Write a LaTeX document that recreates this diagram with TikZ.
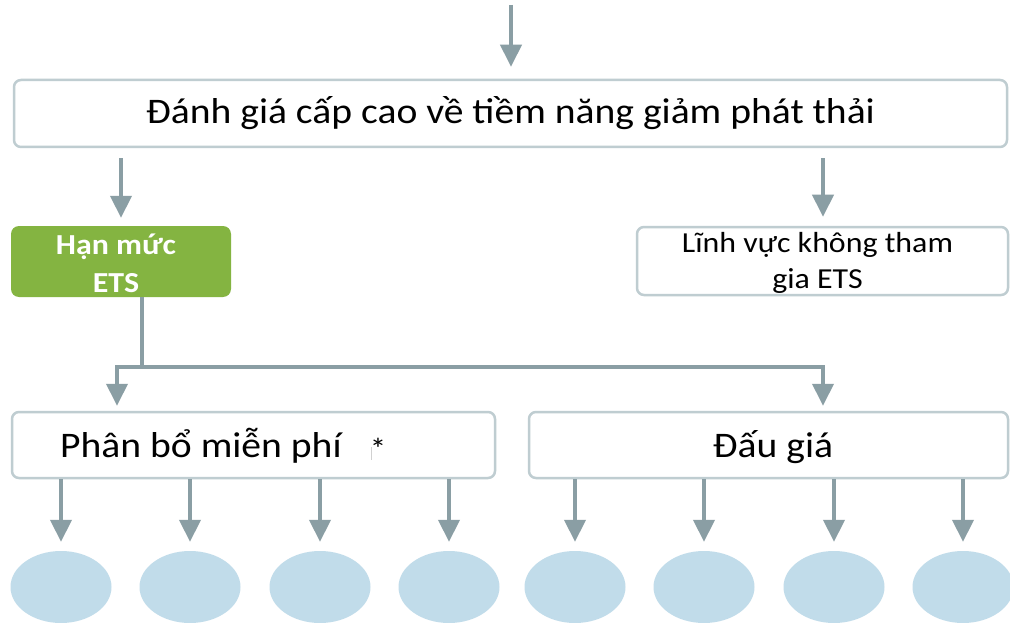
\documentclass[tikz,border=0pt]{standalone}
\usepackage{fontspec}
\setmainfont{Carlito}[FakeStretch=1.1]
\usetikzlibrary{arrows.meta,shapes.geometric}
\definecolor{arrc}{HTML}{8A9EA4}
\definecolor{boxc}{HTML}{BFCDD1}
\definecolor{grn}{HTML}{84B441}
\definecolor{ellc}{HTML}{C1DCEA}
\tikzset{
  arr/.style={draw=arrc, line width=4pt, -{Triangle[width=21pt,length=22pt]}},
  plainline/.style={draw=arrc, line width=4pt},
  box/.style={draw=boxc, line width=2.5pt, rounded corners=7pt, fill=white, inner sep=0pt, align=center},
  greenbox/.style={fill=grn, rounded corners=8pt, inner sep=0pt},
  label/.style={inner sep=0pt, align=center},
  oval/.style={ellipse, fill=ellc, minimum width=101pt, minimum height=72pt, inner sep=0pt},
}
\begin{document}
\begin{tikzpicture}[x=1pt,y=-1pt]
\useasboundingbox[fill=white] (0,0) rectangle (1010,623);

% boxes
\node[box, minimum width=993pt, minimum height=67pt, font=\fontsize{36}{43}\selectfont] (top) at (510.5,113.5) {Đánh giá cấp cao về tiềm năng giảm phát thải};

\node[greenbox, minimum width=220pt, minimum height=71pt] (ets) at (121,261.5) {};
\node[label, text=white, font=\bfseries\fontsize{29}{38}\selectfont] (etstxt) at ([xshift=-5pt,yshift=-2pt]ets.center) {Hạn mức\\ETS};

\node[box, minimum width=371pt, minimum height=68pt] (non) at (822.5,261) {};
\node[label, font=\fontsize{29}{36}\selectfont] (nontxt) at ([xshift=-5pt,yshift=-2pt]non.center) {Lĩnh vực không tham\\gia ETS};

\node[box, minimum width=483pt, minimum height=66pt] (free) at (253.5,445) {};
\node[anchor=base west, inner sep=0pt, font=\fontsize{36}{43}\selectfont] (freetxt) at (60,457) {Phân bổ miễn phí};
\node[inner sep=0pt, font=\fontsize{30}{34}\selectfont] (star) at (378,449) {*};
\draw[draw=black!18, line width=0.8pt] (371,447) -- (371,460);

\node[box, minimum width=479pt, minimum height=66pt] (auct) at (768.5,445) {};
\node[anchor=base, inner sep=0pt, font=\fontsize{36}{43}\selectfont] (aucttxt) at (773,457) {Đấu giá};

% ovals
\foreach \i/\x in {1/61,2/190,3/320,4/449,5/575,6/704,7/834,8/963}{
  \node[oval] (o\i) at (\x,587) {};
}

% arrows
\coordinate (in) at (511,5);
\draw[arr, shorten >=12pt] (in) -- (in |- top.north);
\draw[arr, shorten <=10pt, shorten >=8pt] (top.south -| ets.north) -- (ets.north);
\draw[arr, shorten <=10pt, shorten >=9pt] (top.south -| 823,0) -- (823,0 |- non.north);

\coordinate (jn) at (142,367);
\draw[plainline] (ets.south -| jn) -- (jn);
\draw[arr, shorten >=5pt] (jn) -| (117,0 |- free.north);
\draw[arr, shorten >=5pt] (jn) -| (823,0 |- auct.north);

\foreach \i in {1,2,3,4}{
  \draw[arr, shorten >=9pt] (free.south -| o\i.north) -- (o\i.north);
}
\foreach \i in {5,6,7,8}{
  \draw[arr, shorten >=9pt] (auct.south -| o\i.north) -- (o\i.north);
}
\end{tikzpicture}
\end{document}
